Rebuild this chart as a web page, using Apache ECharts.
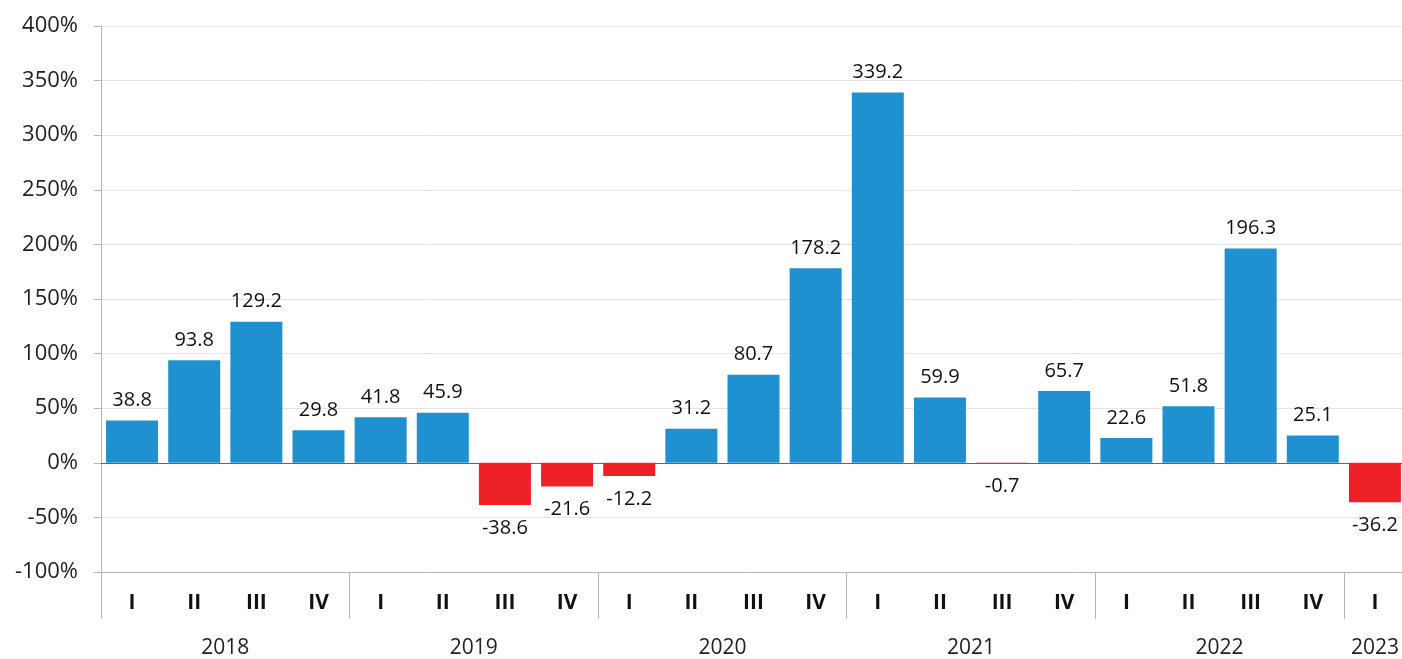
<!DOCTYPE html>
<html>
<head>
<meta charset="utf-8">
<script src="https://cdn.jsdelivr.net/npm/echarts@6/dist/echarts.min.js"></script>
<style>
  html, body { margin: 0; padding: 0; background: #fff; }
  #chart { width: 1402px; height: 659px; }
</style>
</head>
<body>
<div id="chart"></div>
<script>
// quarterly change, %
const years = ['2018', '2019', '2020', '2021', '2022', '2023']
const quartersPerYear = [4, 4, 4, 4, 4, 1]
const quarterNames = ['I', 'II', 'III', 'IV']
const values = [
  38.8, 93.8, 129.2, 29.8,
  41.8, 45.9, -38.6, -21.6,
  -12.2, 31.2, 80.7, 178.2,
  339.2, 59.9, -0.7, 65.7,
  22.6, 51.8, 196.3, 25.1,
  -36.2
]
const yTicks = { min: -100, max: 400, interval: 50 }

const BLUE = '#1f91d0'
const RED = '#ee2226'
const FONT = '"Open Sans", "Noto Sans", sans-serif'

// quarter categories
const quarters = []
quartersPerYear.forEach(n => {
  for (let i = 0; i < n; i++) quarters.push(quarterNames[i])
})

// year axis: half-slot points, year label centred under its quarters
const halfSlots = []
for (let i = 0; i <= quarters.length * 2; i++) halfSlots.push('')
let start = 0
years.forEach((y, k) => {
  halfSlots[start * 2 + quartersPerYear[k]] = y
  start += quartersPerYear[k]
})

const chart = echarts.init(document.getElementById('chart'))
chart.setOption({
  animation: false,
  textStyle: { fontFamily: FONT },
  grid: {
    left: 101, right: -4, top: 26, bottom: 87,
    containLabel: false,
    outerBoundsMode: 'none'
  },
  xAxis: [{
    type: 'category',
    data: quarters,
    position: 'bottom',
    axisLine: { onZero: false, lineStyle: { color: '#b4b4b4', width: 1 } },
    axisTick: {
      show: true,
      length: 47,
      interval: (i) => i % 4 === 0,
      lineStyle: { color: '#b4b4b4' }
    },
    axisLabel: {
      interval: 0,
      margin: 21,
      fontSize: 21,
      fontWeight: 'bold',
      color: '#111',
      fontFamily: FONT
    }
  }, {
    type: 'category',
    data: halfSlots,
    position: 'bottom',
    boundaryGap: false,
    axisLine: { show: false },
    axisTick: { show: false },
    axisLabel: {
      interval: 0,
      margin: 66,
      fontSize: 21,
      color: '#222',
      fontFamily: FONT
    }
  }],
  yAxis: {
    type: 'value',
    min: yTicks.min,
    max: yTicks.max,
    interval: yTicks.interval,
    axisLine: { show: true, lineStyle: { color: '#b4b4b4' } },
    axisTick: { show: true, length: 7, lineStyle: { color: '#b4b4b4' } },
    splitLine: { lineStyle: { color: '#e4e4e4', width: 1 } },
    axisLabel: {
      formatter: '{value}%',
      margin: 23,
      fontSize: 22,
      color: '#222',
      fontFamily: FONT
    }
  },
  series: [{
    type: 'bar',
    data: values.map(v => ({
      value: v,
      itemStyle: { color: v < 0 ? RED : BLUE },
      label: { position: v < 0 ? 'bottom' : 'top', distance: v < 0 ? 13 : 10 }
    })),
    barWidth: 52,
    label: {
      show: true,
      fontSize: 20,
      color: '#111',
      fontFamily: FONT,
      formatter: p => p.value.toFixed(1)
    },
    markLine: {
      silent: true,
      symbol: 'none',
      label: { show: false },
      lineStyle: { color: '#d8323c', width: 1, type: 'solid' },
      data: [{ yAxis: 0 }]
    }
  }]
})
</script>
</body>
</html>
